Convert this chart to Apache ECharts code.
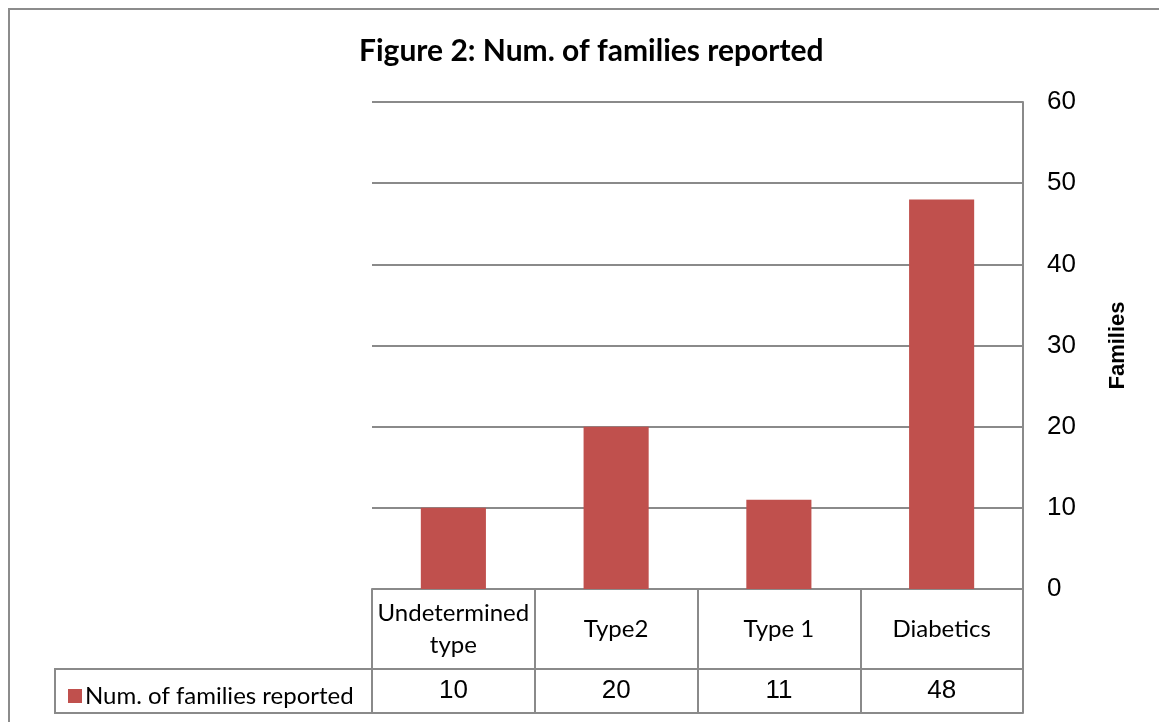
<!DOCTYPE html>
<html>
<head>
<meta charset="utf-8">
<script src="https://cdn.jsdelivr.net/npm/echarts@6/dist/echarts.min.js"></script>
<style>
  html, body { margin: 0; padding: 0; background: #fff; }
  #chart { width: 1159px; height: 722px; }
</style>
</head>
<body>
<div id="chart"></div>
<script>
// Families reported per diabetes category
const categories = ['Undetermined\ntype', 'Type2', 'Type 1', 'Diabetics'];
const familiesReported = [10, 20, 11, 48];
const seriesName = 'Num. of families reported';
const yTicks = { min: 0, max: 60, interval: 10 };

const GRID = { left: 372, right: 136, top: 102, bottom: 133 };
const ROW1 = 80;   // category row height in the data table
const ROW2 = 44;   // value row height
const LEGEND_LEFT = 55;
const W = 1159, H = 722;
const LINE = '#8a8a8a';
const TEXT_FONT = 'Lato, "Open Sans", sans-serif';
const NUM_FONT = '"Liberation Sans", Arial, sans-serif';

const chart = echarts.init(document.getElementById('chart'), null, { renderer: 'canvas' });

const axisY = H - GRID.bottom;

chart.setOption({
  animation: false,
  backgroundColor: '#fff',
  title: {
    text: 'Figure 2: Num. of families reported',
    left: 354,
    top: 31,
    textStyle: { fontFamily: TEXT_FONT, fontWeight: 'bold', fontSize: 30, color: '#000' }
  },
  legend: {
    data: [seriesName],
    left: 63,
    top: 679,
    icon: 'rect',
    itemWidth: 14,
    itemHeight: 14,
    itemGap: 6,
    textStyle: { fontFamily: TEXT_FONT, fontSize: 24, color: '#000', padding: [0, 0, 0, -2] }
  },
  grid: GRID,
  xAxis: [
    {
      type: 'category',
      data: categories,
      position: 'bottom',
      axisLine: { show: true, lineStyle: { color: LINE, width: 2 } },
      axisTick: { show: true, interval: 0, length: ROW1 + ROW2, lineStyle: { color: LINE, width: 2 } },
      axisLabel: {
        interval: 0,
        margin: ROW1 / 2,
        verticalAlign: 'middle',
        lineHeight: 32,
        fontFamily: TEXT_FONT,
        fontSize: 24,
        color: '#000'
      }
    },
    {
      type: 'category',
      data: categories,
      position: 'bottom',
      offset: ROW1,
      axisLine: { show: true, lineStyle: { color: LINE, width: 2 } },
      axisTick: { show: false },
      axisLabel: {
        interval: 0,
        margin: ROW2 / 2,
        verticalAlign: 'middle',
        fontFamily: NUM_FONT,
        fontSize: 26,
        color: '#000',
        formatter: (v, i) => String(familiesReported[i])
      }
    },
    {
      type: 'category',
      data: categories,
      position: 'bottom',
      offset: ROW1 + ROW2,
      axisLine: { show: true, lineStyle: { color: LINE, width: 2 } },
      axisTick: { show: false },
      axisLabel: { show: false }
    }
  ],
  yAxis: {
    type: 'value',
    position: 'right',
    min: yTicks.min,
    max: yTicks.max,
    interval: yTicks.interval,
    name: 'Families',
    nameLocation: 'middle',
    nameRotate: 90,
    nameGap: 84,
    nameTextStyle: { fontFamily: NUM_FONT, fontWeight: 'bold', fontSize: 22, color: '#000' },
    axisLine: { show: true, lineStyle: { color: LINE, width: 2 } },
    axisTick: { show: false },
    axisLabel: { margin: 24, fontFamily: NUM_FONT, fontSize: 26, color: '#000' },
    splitLine: { show: true, lineStyle: { color: LINE, width: 2 } }
  },
  series: [
    {
      name: seriesName,
      type: 'bar',
      data: familiesReported,
      barCategoryGap: '60%',
      itemStyle: { color: '#C0504D' }
    }
  ],
  graphic: [
    // outer chart frame
    {
      type: 'rect',
      silent: true,
      shape: { x: 9, y: 9, width: W + 20, height: H + 20 },
      style: { fill: 'none', stroke: '#8c8c8c', lineWidth: 2 }
    },
    // legend cell of the data table
    {
      type: 'polyline',
      silent: true,
      shape: {
        points: [
          [GRID.left, axisY + ROW1],
          [LEGEND_LEFT, axisY + ROW1],
          [LEGEND_LEFT, axisY + ROW1 + ROW2],
          [GRID.left, axisY + ROW1 + ROW2]
        ]
      },
      style: { fill: 'none', stroke: LINE, lineWidth: 2 }
    }
  ]
});
</script>
</body>
</html>
